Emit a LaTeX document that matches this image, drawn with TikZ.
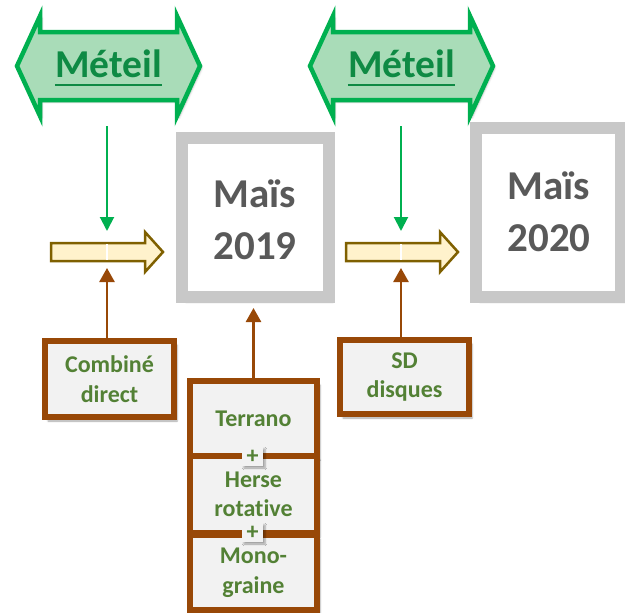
\documentclass[tikz,border=0pt]{standalone}
\usepackage{fontspec}
\setmainfont[Ligatures=NoCommon]{Carlito}
\usetikzlibrary{arrows.meta,shadows.blur}
\definecolor{grnline}{HTML}{00B050}
\definecolor{grnfill}{HTML}{A9DCB8}
\definecolor{grntxt}{HTML}{0E8A44}
\definecolor{ylwfill}{HTML}{FFF2CC}
\definecolor{ylwline}{HTML}{7F6000}
\definecolor{brn}{HTML}{984807}
\definecolor{boxtxt}{HTML}{538135}
\definecolor{boxfill}{HTML}{F2F2F2}
\definecolor{gryline}{HTML}{C8C8C8}
\definecolor{grytxt}{HTML}{595959}
\begin{document}
\begin{tikzpicture}[x=1pt,y=-1pt,
  dblarrow/.style={draw=grnline, fill=grnfill, line width=4.5pt,
    blur shadow={shadow xshift=2pt, shadow yshift=-2pt, shadow opacity=25}},
  meteil/.style={font=\fontsize{39.5}{40}\selectfont\bfseries, text=grntxt, inner sep=0pt},
  blockarrow/.style={draw=ylwline, fill=ylwfill, line width=2.5pt},
  greenarrow/.style={draw=grnline, line width=2pt, -{Triangle[width=14pt,length=14pt]}},
  brownarrow/.style={draw=brn, line width=2.5pt, -{Triangle[width=15pt,length=14pt]}},
  maisbox/.style={draw=gryline, line width=12pt, fill=white, inner sep=0pt,
    blur shadow={shadow xshift=4pt, shadow yshift=-5pt, shadow opacity=35, shadow blur steps=6}},
  maistxt/.style={font=\fontsize{41}{52}\selectfont\bfseries, text=grytxt, align=center, inner sep=0pt},
  toolbox/.style={draw=brn, line width=6pt, fill=boxfill, inner sep=0pt,
    font=\fontsize{24}{29.5}\selectfont\bfseries, text=boxtxt, align=center,
    blur shadow={shadow xshift=3pt, shadow yshift=-4pt, shadow opacity=35, shadow blur steps=5}},
  plusbox/.style={fill=boxfill, inner sep=0pt, minimum width=21pt, minimum height=19pt,
    font=\fontsize{24}{24}\selectfont\bfseries, text=boxtxt,
    blur shadow={shadow xshift=2pt, shadow yshift=-2pt, shadow opacity=35, shadow blur steps=4}}
]
\useasboundingbox (0,0) rectangle (625,613);

% Double arrows "Méteil"
\foreach \s in {0,293}{
  \begin{scope}[xshift=\s pt]
    \draw[dblarrow] (17,66) -- (40,16) -- (40,32) -- (177,32) -- (177,16) -- (200,66)
      -- (177,116) -- (177,100) -- (40,100) -- (40,116) -- cycle;
  \end{scope}
}
\node[meteil, anchor=base] (mA) at (108.5,77) {Méteil};
\node[meteil, anchor=base] (mB) at (401.5,77) {Méteil};
\draw[grntxt, line width=2.5pt] ([yshift=-8pt]mA.base west) -- ([yshift=-8pt]mA.base east);
\draw[grntxt, line width=2.5pt] ([yshift=-8pt]mB.base west) -- ([yshift=-8pt]mB.base east);

% Block arrows
\foreach \s in {0,295}{
  \begin{scope}[xshift=\s pt]
    \draw[blockarrow, line join=miter] (51,243) -- (145,243) -- (145,232) -- (163,252)
      -- (145,272) -- (145,261) -- (51,261) -- cycle;
  \end{scope}
}
\draw[white, line width=1.2pt] (107,244) -- (107,260);
\draw[white, line width=1.2pt] (401,244) -- (401,260);

% Maïs boxes
\node[maisbox, minimum width=147pt, minimum height=159pt] (box19) at (255.5,217.5) {};
\node[maisbox, minimum width=145pt, minimum height=169pt] (box20) at (548.5,212.5) {};
\node[maistxt] (mais19) at (255,219.5) {Maïs\\2019};
\node[maistxt] (mais20) at (549,212) {Maïs\\2020};

% Tool boxes
\node[toolbox, minimum width=129pt, minimum height=76pt] (comb) at (109.5,379) {Combiné\\direct};
\node[toolbox, minimum width=129pt, minimum height=74pt] (sd) at (404.5,377) {SD\\disques};
\node[toolbox, minimum width=127pt, minimum height=75pt] (terr) at (253.5,418.5) {Terrano};
\node[toolbox, minimum width=127pt, minimum height=77pt] (herse) at (253.5,494.5) {Herse\\rotative};
\node[toolbox, minimum width=127pt, minimum height=75pt] (mono) at (253.5,572.5) {Mono-\\graine};
\node[plusbox] (p1) at (252.5,456.5) {+};
\node[plusbox] (p2) at (252.5,532.5) {+};

% Connectors
\coordinate (gA) at (107,126);
\coordinate (gB) at (401,126);
\coordinate (yAtop) at (107,231);
\coordinate (yBtop) at (401,231);
\coordinate (yAbot) at (107,268);
\coordinate (yBbot) at (401,268);
\draw[greenarrow] (gA) -- (yAtop);
\draw[greenarrow] (gB) -- (yBtop);
\draw[brownarrow] (comb.north -| yAbot) -- (yAbot);
\draw[brownarrow] (sd.north -| yBbot) -- (yBbot);
\draw[brownarrow, shorten >=5pt] (terr.north) -- (terr.north |- box19.south);
\end{tikzpicture}
\end{document}
